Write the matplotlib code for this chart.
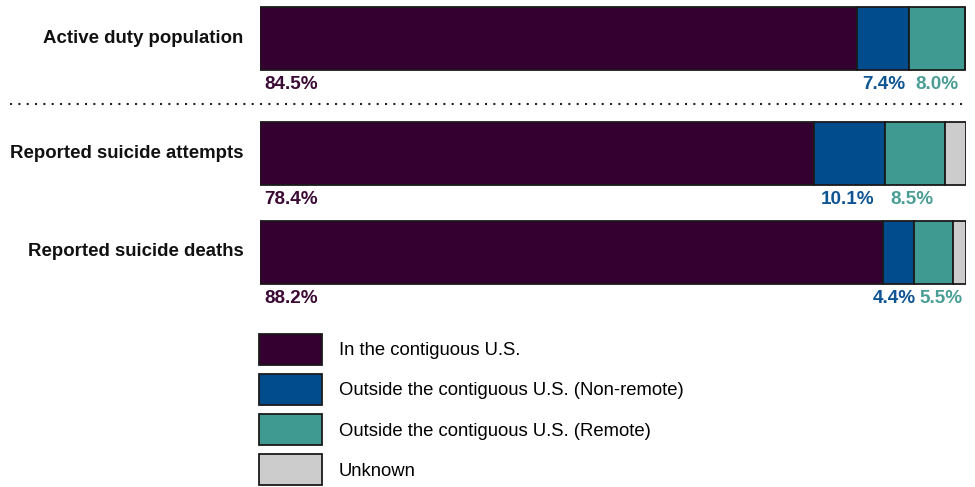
import numpy as np
import matplotlib.pyplot as plt
from matplotlib.patches import Patch

plt.rcParams['font.family'] = ['Liberation Sans', 'DejaVu Sans']

groups = ["Active duty population", "Reported suicide attempts", "Reported suicide deaths"]
series = ["In the contiguous U.S.", "Outside the contiguous U.S. (Non-remote)",
          "Outside the contiguous U.S. (Remote)", "Unknown"]
conus = [84.5, 78.4, 88.2]
oconus_nonremote = [7.4, 10.1, 4.4]
oconus_remote = [8.0, 8.5, 5.5]
unknown = [0.0, 3.0, 1.9]

colors = ["#33002F", "#004C8C", "#3F9A91", "#CCCCCC"]
text_colors = ["#3B0A35", "#0F5593", "#4A9E96"]

# layout (pixels of the 975x487 figure)
W, H = 975, 487
bar_y = [38.5, 153.5, 252]
bar_h = 63
# small horizontal nudges (points) so neighbouring labels don't collide
nudges = [[0, 1, 0], [0, -1, -2], [0, -3, 6]]

fig = plt.figure(figsize=(W / 100, H / 100), dpi=100)
ax = fig.add_axes([260 / W, 0, 706 / W, 1])
ax.set_xlim(0, 100)
ax.set_ylim(H, 0)
ax.axis('off')

vals = np.array([conus, oconus_nonremote, oconus_remote, unknown])
left = np.zeros(len(groups))
for k in range(4):
    ax.barh(bar_y, vals[k], height=bar_h, left=left, color=colors[k],
            edgecolor="#1a1a1a", linewidth=1.3)
    if k < 3:
        for i in range(len(groups)):
            if k == 0:
                x, ha = left[i], 'left'
                dx = 3
            else:
                x, ha = left[i] + vals[k][i] / 2, 'center'
                dx = nudges[i][k]
            ax.annotate(f"{vals[k][i]:.1f}%", (x, bar_y[i] + bar_h / 2),
                        xytext=(dx, -4.5), textcoords='offset points',
                        ha=ha, va='top', fontsize=13.6, fontweight='bold',
                        color=text_colors[k])
    left += vals[k]

for i, g in enumerate(groups):
    ax.annotate(g, (0, bar_y[i]), xytext=(-12, 0), textcoords='offset points',
                ha='right', va='center', fontsize=13.4, fontweight='bold',
                color="#111111", annotation_clip=False)

# dotted separator
fig.add_artist(plt.Line2D([10 / W, 966 / W], [1 - 104 / H, 1 - 104 / H],
                          color="#222222", linewidth=1.5, linestyle=(0, (1, 3))))

handles = [Patch(facecolor=c, edgecolor="#1a1a1a", linewidth=1.3) for c in colors]
fig.legend(handles, series, loc='upper left',
           bbox_to_anchor=(259 / W, 1 - 334 / H), frameon=False,
           fontsize=13.35, handlelength=3.4, handleheight=2.2,
           labelspacing=0.49, handletextpad=0.9, borderpad=0, borderaxespad=0)

fig.savefig("out.png", dpi=100)
